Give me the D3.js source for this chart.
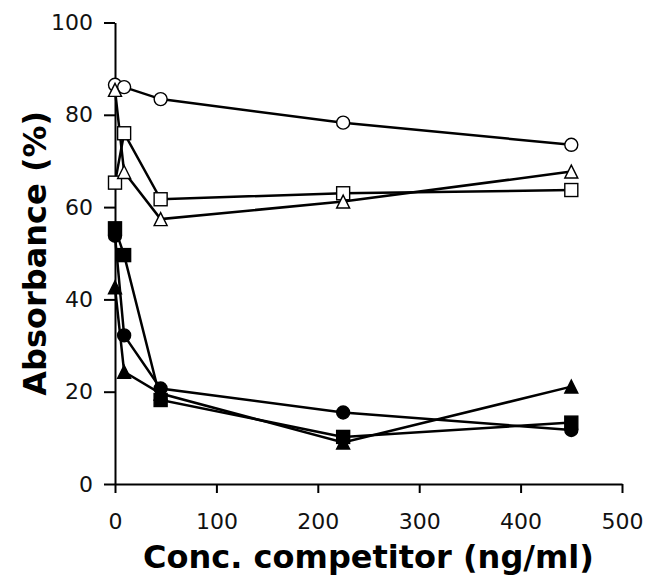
<!DOCTYPE html>
<html>
<head>
<meta charset="utf-8">
<script src="https://cdnjs.cloudflare.com/ajax/libs/d3/7.8.5/d3.min.js"></script>
<style>
    body { margin: 0; background: #fff; }
    .axis path, .axis line { stroke: #000; stroke-width: 2px; }
    .axis text { font-family: "DejaVu Sans", Verdana, sans-serif; font-size: 22px; fill: #111; }
    .title { font-family: "DejaVu Sans", Verdana, sans-serif; font-weight: bold; font-size: 32px; fill: #000; }
    .line { fill: none; stroke: #000; stroke-width: 2.5px; }
</style>
</head>
<body>
<div id="chart"></div>
<script>

// Concentrations (ng/ml)
var concentrations = [0, 9, 45, 225, 450];

// Absorbance (%) for each series
var openCircle   = [86.5, 86.0, 83.4, 78.3, 73.5];
var openSquare   = [65.3, 76.0, 61.7, 63.0, 63.7];
var openTriangle = [85.4, 67.6, 57.4, 61.2, 67.7];
var filledSquare   = [55.4, 49.6, 18.2, 10.2, 13.3];
var filledCircle   = [53.8, 32.2, 20.7, 15.5, 11.7];
var filledTriangle = [42.6, 24.3, 19.6, 9.0, 21.1];

var xTicks = [0, 100, 200, 300, 400, 500];
var yTicks = [0, 20, 40, 60, 80, 100];

(function() {

    // series list: values, marker shape, fill
    var series = [
        {values: openCircle, shape: 'circle', fill: '#fff'},
        {values: openSquare, shape: 'square', fill: '#fff'},
        {values: openTriangle, shape: 'triangle', fill: '#fff'},
        {values: filledSquare, shape: 'square', fill: '#000'},
        {values: filledCircle, shape: 'circle', fill: '#000'},
        {values: filledTriangle, shape: 'triangle', fill: '#000'}
    ];

    var margin = {top: 22.5, right: 26, bottom: 97, left: 115},
        width = 648 - margin.left - margin.right,
        height = 581 - margin.top - margin.bottom;

    var x = d3.scaleLinear().domain([0, 500]).range([0, width]);
    var y = d3.scaleLinear().domain([0, 100]).range([height, 0]);

    var svg = d3.select('#chart')
        .append('svg')
            .attr('width', 648)
            .attr('height', 581)
        .append('g')
            .attr('transform', 'translate(' + margin.left + ',' + margin.top + ')');

    // Axes
    svg.append('g')
        .attr('class', 'x axis')
        .attr('transform', 'translate(0,' + height + ')')
        .call(d3.axisBottom(x).tickValues(xTicks).tickSize(9).tickSizeOuter(0).tickPadding(20));

    svg.append('g')
        .attr('class', 'y axis')
        .call(d3.axisLeft(y).tickValues(yTicks).tickSize(11).tickSizeOuter(0).tickPadding(11));

    // Lines
    var valueline = d3.line()
        .x(function(d, i) { return x(concentrations[i]); })
        .y(function(d) { return y(d); });

    series.forEach(function(s) {
        svg.append('path')
            .attr('class', 'line')
            .attr('d', valueline(s.values));
    });

    // Markers
    var r = 6.5;
    var shapes = {
        circle: function(g) {
            return g.append('circle').attr('r', r);
        },
        square: function(g) {
            return g.append('rect').attr('x', -r).attr('y', -r).attr('width', 2 * r).attr('height', 2 * r);
        },
        triangle: function(g) {
            return g.append('path').attr('d', 'M0,' + (-r) + 'L' + r + ',' + r + 'L' + (-r) + ',' + r + 'Z');
        }
    };

    series.forEach(function(s) {
        s.values.forEach(function(v, i) {
            var g = svg.append('g')
                .attr('transform', 'translate(' + x(concentrations[i]) + ',' + y(v) + ')');
            shapes[s.shape](g)
                .attr('fill', s.fill)
                .attr('stroke', '#000')
                .attr('stroke-width', 1.4);
        });
    });

    // Axis titles
    svg.append('text')
        .attr('class', 'title')
        .attr('text-anchor', 'middle')
        .attr('x', width / 2)
        .attr('y', height + 84)
        .text('Conc. competitor (ng/ml)');

    svg.append('text')
        .attr('class', 'title')
        .attr('text-anchor', 'middle')
        .attr('transform', 'translate(' + (46 - margin.left) + ',' + (height / 2) + ') rotate(-90)')
        .text('Absorbance (%)');

})();
</script>
</body>
</html>
